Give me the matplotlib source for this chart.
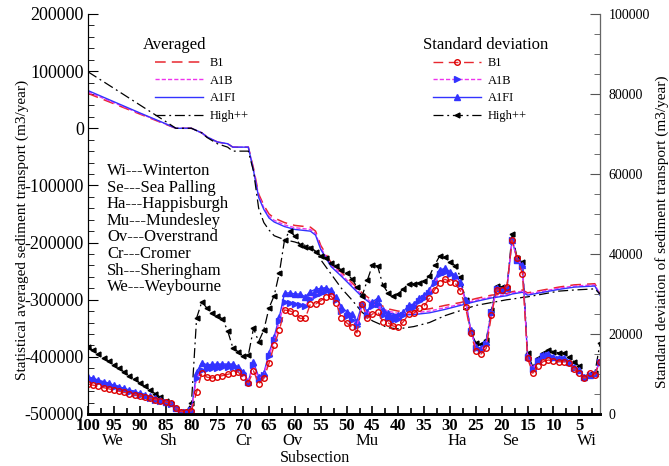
import numpy as np
import matplotlib.pyplot as plt
from matplotlib.ticker import MultipleLocator

plt.rcParams['font.family'] = ['Liberation Serif', 'DejaVu Serif']
plt.rcParams['axes.unicode_minus'] = False

# subsections for the standard deviation series (100 -> 1)
sub = list(range(100, 0, -1))

std_b1 = [7500, 7200, 6900, 6600, 6300, 6000, 5700, 5400, 5100, 4800,
          4500, 4200, 3900, 3600, 3300, 3000, 2700, 1500, 600, 600,
          800, 5500, 10200, 9200, 9000, 9300, 9600, 9900, 10300, 10500,
          9300, 7800, 10800, 7500, 8900, 12700, 17200, 21000, 26000, 25800,
          25300, 23900, 23900, 27500, 27500, 28300, 29200, 29500, 27700, 23900,
          22800, 21800, 20300, 27500, 23900, 25000, 25600, 23100, 22800, 22000,
          21800, 23100, 25000, 25200, 26400, 27000, 28900, 31000, 32800, 33700,
          33100, 32700, 30800, 26800, 20200, 15800, 15000, 16400, 24700, 31000,
          31000, 31800, 43500, 38900, 35100, 13900, 10200, 12000, 13100, 13500,
          13300, 13100, 13100, 12700, 11200, 10300, 8900, 10200, 9800, 13100]

std_a1b = [8800, 8400, 8000, 7600, 7200, 6800, 6400, 6000, 5600, 5200,
           4800, 4400, 4000, 3600, 3200, 2900, 2600, 1400, 600, 600,
           900, 9000, 11000, 11200, 11400, 11600, 11700, 11800, 11800, 11200,
           10200, 8000, 12300, 8800, 9800, 14500, 18500, 23200, 28000, 27800,
           27600, 27200, 27000, 28800, 29800, 30200, 30700, 30500, 28500, 25800,
           24500, 23600, 22000, 27300, 24800, 27000, 27600, 24800, 24000, 23400,
           23800, 24800, 26400, 26800, 28200, 29000, 30300, 32800, 35000, 35500,
           35000, 34200, 32400, 28200, 20800, 16500, 16000, 17600, 25400, 31200,
           31000, 31400, 43500, 38600, 37000, 14200, 11200, 13300, 14500, 14800,
           14100, 13800, 13800, 13000, 11600, 10800, 9200, 9800, 10100, 13100]

std_a1fi = [9300, 8900, 8500, 8100, 7700, 7200, 6800, 6400, 6000, 5600,
            5200, 4800, 4400, 4000, 3500, 3100, 2700, 1500, 600, 600,
            1000, 10500, 12800, 12300, 12400, 12500, 12500, 12500, 12500, 11800,
            10600, 8100, 12900, 9300, 10200, 15200, 19300, 24300, 30200, 30300,
            30000, 30000, 29300, 30600, 31200, 31400, 31600, 31000, 29200, 26800,
            25600, 25000, 23200, 27500, 25600, 28100, 28900, 26000, 25200, 24500,
            24800, 25600, 27200, 27500, 28900, 29800, 31000, 33500, 36000, 36400,
            35600, 34700, 33000, 28500, 21000, 16800, 16400, 18100, 25600, 31400,
            31000, 31400, 43500, 38500, 37200, 14300, 11400, 13500, 14700, 15000,
            14300, 14000, 14000, 13100, 11800, 11000, 9300, 9800, 10200, 13100]

std_high = [16800, 15900, 15000, 14100, 13200, 12300, 11400, 10500, 9600, 8700,
            7800, 6900, 6000, 5100, 4200, 3300, 2400, 1200, 500, 500,
            2700, 24000, 28000, 26500, 25200, 24600, 23800, 20800, 16600, 15600,
            14500, 14700, 21400, 18100, 21000, 26500, 29600, 35300, 43500, 45800,
            44500, 42200, 41700, 41400, 40600, 39600, 38900, 37800, 37000, 36000,
            35200, 33800, 31800, 29500, 33400, 37200, 37000, 32300, 30300, 29500,
            30100, 31300, 32600, 32500, 32700, 33300, 34400, 37200, 39500, 39200,
            38100, 37100, 34300, 28500, 20500, 17800, 17500, 18500, 26000, 32000,
            31700, 31400, 45000, 38900, 38000, 15200, 11800, 13900, 15200, 16000,
            15600, 15300, 15200, 14300, 13100, 12000, 9300, 10000, 10200, 17700]

# averaged transport (left axis)
avg_x = [100, 95, 90, 85, 83, 80, 78, 77, 75, 73, 72, 69, 68, 67, 66, 65, 64, 62,
         60, 57, 56, 55, 53, 51, 49, 47, 45, 42, 40, 37, 34, 31, 28, 25, 22, 19,
         18, 16, 15, 12, 9, 6, 2, 1]
avg_b1 = [61000, 43000, 25000, 7000, 0, 0, -8000, -15000, -24000, -27000, -33000,
          -33000, -70000, -115000, -135000, -150000, -157000, -165000, -170000,
          -173000, -180000, -205000, -235000, -252000, -270000, -288000, -302000,
          -316000, -320000, -319000, -316000, -310000, -305000, -298000, -292000,
          -289000, -286000, -283000, -288000, -283000, -278000, -274000, -272000,
          -288000]
avg_a1b = [63500, 44800, 26000, 7500, 0, 0, -8000, -15000, -24000, -27000, -33000,
           -33000, -72000, -118000, -139000, -154000, -161000, -169000, -174000,
           -177000, -184000, -209000, -239000, -256000, -274000, -292000, -306000,
           -320000, -324000, -323000, -320000, -314000, -308000, -301000, -295000,
           -291000, -288000, -285000, -290000, -285000, -280000, -276000, -274000,
           -290000]
avg_a1fi = [66000, 46500, 27000, 8000, 0, 0, -8000, -15000, -24000, -27000, -33000,
            -33000, -74000, -121000, -142000, -157000, -164000, -172000, -177000,
            -180000, -187000, -212000, -242000, -259000, -277000, -295000, -309000,
            -323000, -327000, -326000, -323000, -317000, -310000, -303000, -297000,
            -293000, -290000, -287000, -292000, -287000, -282000, -278000, -276000,
            -292000]
avg_high = [98800, 70000, 41000, 12000, 0, 0, -8000, -16000, -27000, -33000, -40000,
            -40000, -75000, -140000, -165000, -178000, -188000, -195000, -199000,
            -208000, -215000, -230000, -255000, -280000, -300000, -322000, -337000,
            -349000, -351000, -347000, -340000, -328000, -319000, -310000, -305000,
            -300000, -299000, -296000, -295000, -290000, -285000, -283000, -281000,
            -290000]

places = ['We', 'Sh', 'Cr', 'Ov', 'Mu', 'Ha', 'Se', 'Wi']
place_x = [95.2, 84.5, 70, 60.4, 46, 28.6, 18.1, 3.5]
names = ['Wi---Winterton', 'Se---Sea Palling', 'Ha---Happisburgh', 'Mu---Mundesley',
         'Ov---Overstrand', 'Cr---Cromer', 'Sh---Sheringham', 'We---Weybourne']

fig = plt.figure(figsize=(6.69, 4.66), dpi=100)
ax = fig.add_axes([88 / 669, 52 / 466, 512 / 669, 400 / 466])
ax2 = ax.twinx()

# averaged lines
l1, = ax.plot(avg_x, avg_b1, color='#e8272f', ls=(0, (7, 4)), lw=1.1, label='B1')
l2, = ax.plot(avg_x, avg_a1b, color='#ee33ee', ls=(0, (3, 1.5)), lw=1.0, label='A1B')
l3, = ax.plot(avg_x, avg_a1fi, color='#3333ff', ls='-', lw=1.0, label='A1FI')
l4, = ax.plot(avg_x, avg_high, color='black', ls=(0, (8, 3, 1.5, 3)), lw=0.9, label='High++')

# standard deviation lines
s4, = ax2.plot(sub, std_high, color='black', ls=(0, (8, 3, 1.5, 3)), lw=0.9,
               marker='<', ms=3.5, mfc='black', mec='black', label='High++')
s3, = ax2.plot(sub, std_a1fi, color='#3333ff', ls='-', lw=1.0,
               marker='^', ms=4, mfc='#3333ff', mec='#3333ff', label='A1FI')
s2, = ax2.plot(sub, std_a1b, color='#ee33ee', ls=(0, (3, 1.5)), lw=1.0,
               marker='>', ms=4, mfc='#3333ff', mec='#3333ff', label='A1B')
s1, = ax2.plot(sub, std_b1, color='#e8272f', ls=(0, (7, 4)), lw=1.0,
               marker='o', ms=4, mfc='none', mec='#dd0000', mew=1.0, label='B1')

ax.set_xlim(100, 1)
ax.set_ylim(-500000, 200000)
ax2.set_ylim(0, 100000)

ax.set_xticks(range(100, 0, -5))
ax.xaxis.set_minor_locator(MultipleLocator(2.5))
ax.yaxis.set_major_locator(MultipleLocator(100000))
ax.yaxis.set_minor_locator(MultipleLocator(20000))
ax2.yaxis.set_major_locator(MultipleLocator(20000))
ax2.yaxis.set_minor_locator(MultipleLocator(5000))

ax.tick_params(axis='x', which='both', direction='in', labelsize=12, pad=3)
ax.tick_params(axis='x', which='major', length=6, width=1.2)
ax.tick_params(axis='x', which='minor', length=4, width=1.2)
for t in ax.get_xticklabels():
    t.set_fontweight('bold')
ax.tick_params(axis='y', which='major', direction='in', length=7, labelsize=13, pad=3)
ax.tick_params(axis='y', which='minor', direction='in', length=4)
ax2.tick_params(axis='y', which='major', direction='in', length=7, labelsize=10,
                color='#555555', pad=6)
ax2.tick_params(axis='y', which='minor', direction='in', length=4, color='#555555')

for a in (ax, ax2):
    a.spines['top'].set_visible(False)
ax.spines['bottom'].set_linewidth(2)
ax2.spines['bottom'].set_linewidth(2)
ax2.spines['right'].set_color('#666666')

ax.set_ylabel('Statistical averaged sediment transport (m3/year)', fontsize=11)
ax.yaxis.set_label_coords(-0.115, 0.46)
ax2.set_ylabel('Standard deviation of sediment transport (m3/year)', fontsize=11)
ax2.yaxis.set_label_coords(1.107, 0.455)
ax.set_xlabel('Subsection', fontsize=11.5)
ax.xaxis.set_label_coords(0.443, -0.089)

for p, px in zip(places, place_x):
    ax.text(px, -0.068, p, transform=ax.get_xaxis_transform(), ha='center',
            va='center', fontsize=12)

for i, n in enumerate(names):
    fig.text(107 / 669, 1 - (171 + i * 16.6) / 466, n, fontsize=12, va='center')

# legend titles placed as separate texts
fig.text(143 / 669, 1 - 45 / 466, 'Averaged', fontsize=12, va='center')
fig.text(423 / 669, 1 - 45 / 466, 'Standard deviation', fontsize=12, va='center')

leg1 = ax2.legend(handles=[l1, l2, l3, l4], loc='upper left',
                  bbox_to_anchor=(150 / 669, 1 - 52 / 466), bbox_transform=fig.transFigure,
                  frameon=False, fontsize=9, handlelength=3.8, labelspacing=0.45,
                  handletextpad=0.6, borderaxespad=0)
ax2.add_artist(leg1)
ax2.legend(handles=[s1, s2, s3, s4], loc='upper left',
           bbox_to_anchor=(428 / 669, 1 - 52 / 466), bbox_transform=fig.transFigure,
           frameon=False, fontsize=9, handlelength=3.8, labelspacing=0.45,
           handletextpad=0.6, borderaxespad=0)

fig.savefig('out.png', dpi=100)
